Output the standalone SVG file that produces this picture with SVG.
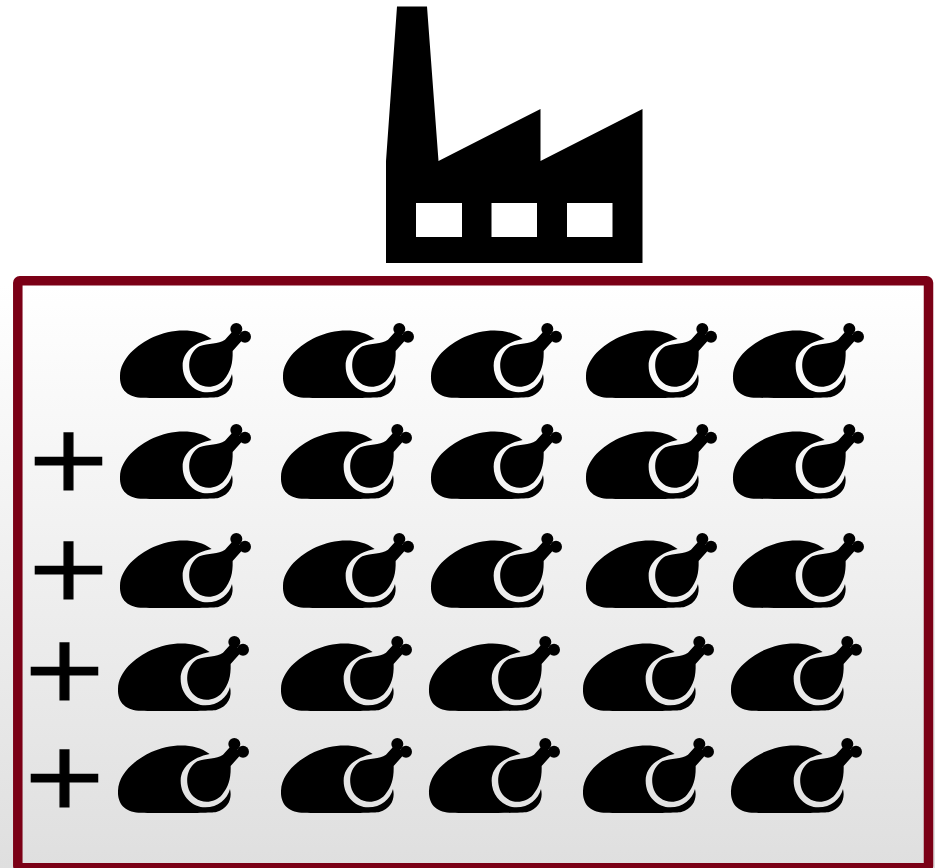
<svg xmlns="http://www.w3.org/2000/svg" width="935" height="868" viewBox="0 0 935 868">
<style>
.k{fill:#000}
.plus{font-family:"DejaVu Sans",sans-serif;font-size:88px;fill:#000;stroke:#000;stroke-width:1.200;text-anchor:middle}
</style>
<defs>
<linearGradient id="g" x1="0" y1="0" x2="0" y2="1"><stop offset="0" stop-color="#fff"/><stop offset="1" stop-color="#dfdfdf"/></linearGradient>
<symbol id="chicken" overflow="visible">
<g transform="scale(.3333)" class="k">
<path d="M30 182C32 130 80 90 130 66C180 44 255 34 305 72C255 82 218 110 218 152C218 200 255 232 292 232C330 232 358 208 366 177C373 205 362 235 325 246C300 250 150 250 100 248C55 248 28 225 30 182Z"/>
<path d="M268 94C295 84 325 88 345 74L372 44L402 70L368 108C369 145 362 170 342 194C322 218 285 222 262 204C240 188 236 160 238 142C241 120 252 104 268 94Z"/>
<circle cx="379" cy="42" r="18"/><circle cx="405" cy="65" r="18"/>
</g>
</symbol>
</defs>
<rect width="935" height="868" fill="#fff"/>
<rect x="0" y="285" width="935" height="583" fill="url(#g)"/>
<g id="frame"><rect x="17.800" y="280.700" width="910.700" height="587" rx="2" fill="none" stroke="#7b0016" stroke-width="9.500"/></g>
<g id="factory"><path class="k" fill-rule="evenodd" d="M397 6.500H427L438.500 161L540.500 109V161L642.500 109V263H386V161ZM416 203V237H462V203ZM491.500 203V237H537V203ZM567 203V237H612.500V203Z"/></g>
<g id="chickens">
<use href="#chicken" x="110" y="315"/><use href="#chicken" x="273" y="315"/><use href="#chicken" x="421" y="315"/><use href="#chicken" x="576" y="315"/><use href="#chicken" x="723" y="315"/>
<use href="#chicken" x="110" y="416"/><use href="#chicken" x="271" y="416"/><use href="#chicken" x="421" y="416"/><use href="#chicken" x="576" y="416"/><use href="#chicken" x="723" y="416"/>
<use href="#chicken" x="110" y="525"/><use href="#chicken" x="273" y="525"/><use href="#chicken" x="421" y="525"/><use href="#chicken" x="576" y="525"/><use href="#chicken" x="723" y="525"/>
<use href="#chicken" x="108" y="628"/><use href="#chicken" x="271" y="628"/><use href="#chicken" x="419" y="628"/><use href="#chicken" x="573" y="628"/><use href="#chicken" x="721" y="628"/>
<use href="#chicken" x="108" y="730"/><use href="#chicken" x="271" y="730"/><use href="#chicken" x="419" y="730"/><use href="#chicken" x="573" y="730"/><use href="#chicken" x="721" y="730"/>
</g>
<g id="plus">
<text class="plus" transform="translate(68.500 462) scale(1.2 1.03)" y="27.500">+</text>
<text class="plus" transform="translate(68.500 571) scale(1.2 1.03)" y="27.500">+</text>
<text class="plus" transform="translate(64.500 672) scale(1.2 1.03)" y="27.500">+</text>
<text class="plus" transform="translate(64.500 779) scale(1.2 1.03)" y="27.500">+</text>
</g>
</svg>
